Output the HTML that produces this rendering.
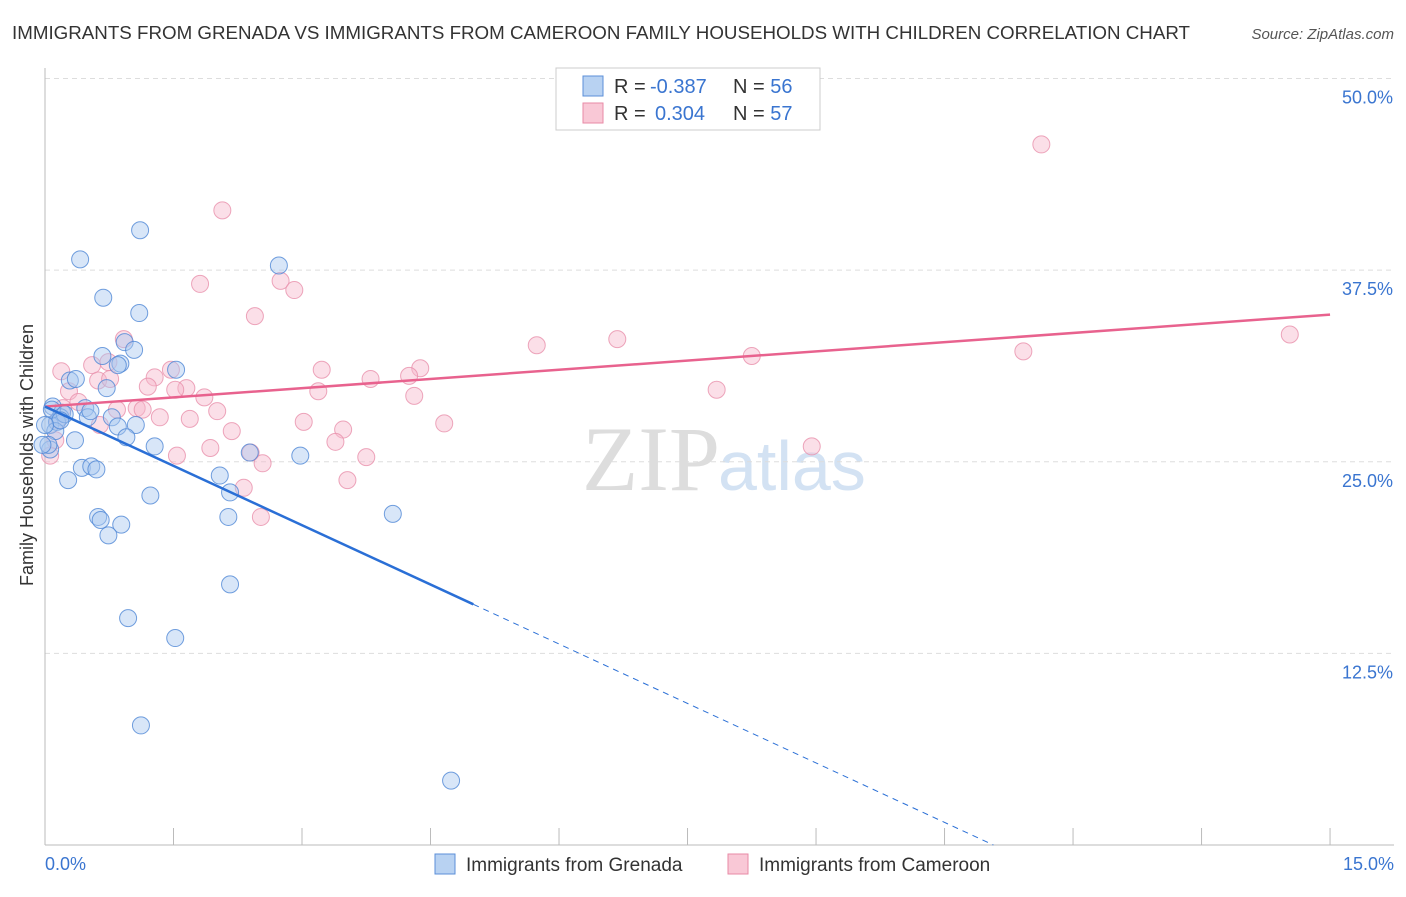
<!DOCTYPE html>
<html><head><meta charset="utf-8"><style>
body{margin:0;background:#fff;font-family:"Liberation Sans",sans-serif;}
</style></head><body>
<svg width="1406" height="892" xmlns="http://www.w3.org/2000/svg">
<text x="12" y="39" font-size="18" fill="#333" textLength="1178" lengthAdjust="spacingAndGlyphs">IMMIGRANTS FROM GRENADA VS IMMIGRANTS FROM CAMEROON FAMILY HOUSEHOLDS WITH CHILDREN CORRELATION CHART</text>
<text x="1394" y="39" font-size="15" fill="#555" font-style="italic" text-anchor="end">Source: ZipAtlas.com</text>
<text x="720" y="490" font-size="92" fill="#ddd" font-family="Liberation Serif" text-anchor="end">ZIP</text>
<text x="718" y="490" font-size="70" fill="#d3e2f3">atlas</text>
<g id="grid"></g>
<line x1="45" y1="68" x2="45" y2="845" stroke="#bbb"/>
<line x1="45" y1="845" x2="1394" y2="845" stroke="#bbb"/>
<g id="xt"></g>
<text x="33" y="455" font-size="18" fill="#333" transform="rotate(-90 33 455)" text-anchor="middle">Family Households with Children</text>
<text x="45" y="870" font-size="18" fill="#3a75d0">0.0%</text>
<text x="1394" y="870" font-size="18" fill="#3a75d0" text-anchor="end">15.0%</text>
<g id="pts"></g>
<g id="lines"></g>
<g>
<rect x="556" y="68" width="264" height="62" fill="#fff" stroke="#ccc"/>
<rect x="583" y="76" width="20" height="20" fill="#b8d2f2" stroke="#5b8fd8"/>
<rect x="583" y="103" width="20" height="20" fill="#f9c8d6" stroke="#e88aa6"/>
<text x="614" y="93" font-size="20" fill="#333">R = <tspan fill="#3a75d0" x="650">-0.387</tspan><tspan x="733">N = </tspan><tspan fill="#3a75d0">56</tspan></text>
<text x="614" y="120" font-size="20" fill="#333">R = <tspan fill="#3a75d0" x="655">0.304</tspan><tspan x="733">N = </tspan><tspan fill="#3a75d0">57</tspan></text>
</g>
<g>
<rect x="435" y="854" width="20" height="20" fill="#b8d2f2" stroke="#5b8fd8"/>
<text x="466" y="871" font-size="19" fill="#333">Immigrants from Grenada</text>
<rect x="728" y="854" width="20" height="20" fill="#f9c8d6" stroke="#e88aa6"/>
<text x="759" y="871" font-size="19" fill="#333">Immigrants from Cameroon</text>
</g>
</svg>
<script>
const yTicks=[12.5,25,37.5,50];
const yTickLabels=["12.5%","25.0%","37.5%","50.0%"];
const blueX=[1.11,0.41,2.73,0.68,1.10,0.93,1.04,0.67,0.88,1.53,0.85,0.29,0.36,0.72,0.09,0.20,0.47,0.18,0.50,0.78,0.06,0.14,0.85,1.06,0.35,0.95,1.28,0.06,0.43,0.54,0.60,0.27,2.04,2.39,2.98,1.23,2.16,0.62,0.65,0.89,0.74,2.14,4.06,2.16,0.97,1.52,1.12,4.74,0.08,0.12,0.23,0.04,0.53,0.18,-0.03,0.00];
const blueY=[40.1,38.2,37.8,35.7,34.7,32.8,32.3,31.9,31.4,31.0,31.3,30.3,30.4,29.8,28.6,28.2,28.5,27.9,27.9,27.9,27.4,27.6,27.3,27.4,26.4,26.6,26.0,25.8,24.6,24.7,24.5,23.8,24.1,25.6,25.4,22.8,23.0,21.4,21.2,20.9,20.2,21.4,21.6,17.0,14.8,13.5,7.8,4.2,28.4,27.0,28.1,26.1,28.3,27.7,26.1,27.4];
const pinkX=[11.63,2.07,1.81,2.75,2.91,2.45,0.92,5.74,6.68,8.25,11.42,14.53,0.55,0.74,0.19,3.23,4.38,4.25,3.80,1.47,1.28,1.65,1.20,0.62,0.28,1.86,3.19,4.31,7.84,1.52,1.07,1.14,2.01,0.84,1.34,1.69,3.02,4.66,2.18,3.48,3.39,1.93,2.40,3.75,1.54,2.54,3.53,2.32,2.52,8.95,0.12,0.06,0.15,0.64,0.21,0.39,0.76];
const pinkY=[45.7,41.4,36.6,36.8,36.2,34.5,33.0,32.6,33.0,31.9,32.2,33.3,31.3,31.5,30.9,31.0,31.1,30.6,30.4,31.0,30.5,29.8,29.9,30.3,29.6,29.2,29.6,29.3,29.7,29.7,28.5,28.4,28.3,28.4,27.9,27.8,27.6,27.5,27.0,27.1,26.3,25.9,25.6,25.3,25.4,24.9,23.8,23.3,21.4,26.0,26.4,25.4,27.7,27.4,28.5,28.9,30.4];
const blueLine=[[0,28.6],[5.0,15.7]];
const blueDash=[[5.0,15.7],[11.07,0]];
const pinkLine=[[0,28.6],[15,34.6]];
const X=v=>45+v*85.67, Y=v=>845-v*15.33;
const NS="http://www.w3.org/2000/svg";
const grid=document.getElementById('grid');
yTicks.forEach((t,i)=>{
  const l=document.createElementNS(NS,'line');
  l.setAttribute('x1',45);l.setAttribute('x2',1394);l.setAttribute('y1',Y(t));l.setAttribute('y2',Y(t));
  l.setAttribute('stroke','#ddd');l.setAttribute('stroke-dasharray','5,4');
  
  
  grid.appendChild(l);
  const tx=document.createElementNS(NS,'text');
  tx.setAttribute('x',1393);tx.setAttribute('y',Y(t)+25);tx.setAttribute('text-anchor','end');
  tx.setAttribute('font-size','18');tx.setAttribute('fill','#3a75d0');tx.textContent=yTickLabels[i];
  
  
  grid.appendChild(tx);
});
const xt=document.getElementById('xt');
for(let i=1;i<=10;i++){
  const l=document.createElementNS(NS,'line');
  const x=X(i*1.5);
  l.setAttribute('x1',x);l.setAttribute('x2',x);l.setAttribute('y1',828);l.setAttribute('y2',845);l.setAttribute('stroke','#bbb');
  
  
  xt.appendChild(l);
}
const pts=document.getElementById('pts');
function dot(x,y,fill,stroke,name){
  const c=document.createElementNS(NS,'circle');
  c.setAttribute('cx',X(x));c.setAttribute('cy',Y(y));c.setAttribute('r',8.5);
  c.setAttribute('fill',fill);c.setAttribute('fill-opacity','0.45');c.setAttribute('stroke',stroke);c.setAttribute('stroke-width','1');c.setAttribute('stroke-opacity','0.8');
  
  
  pts.appendChild(c);
}
pinkX.forEach((x,i)=>dot(x,pinkY[i],'#f7b8cb','#e890ab','point-cameroon'));
blueX.forEach((x,i)=>dot(x,blueY[i],'#a9c8ef','#4f87d6','point-grenada'));
const lines=document.getElementById('lines');
function ln(p,col,w,dash,name){
  const l=document.createElementNS(NS,'line');
  l.setAttribute('x1',X(p[0][0]));l.setAttribute('y1',Y(p[0][1]));l.setAttribute('x2',X(p[1][0]));l.setAttribute('y2',Y(p[1][1]));
  l.setAttribute('stroke',col);l.setAttribute('stroke-width',w);if(dash)l.setAttribute('stroke-dasharray',dash);
  
  
  lines.appendChild(l);
}
ln(pinkLine,'#e8628e',2.5,null,'trendline-cameroon');
ln(blueLine,'#2a6fd6',2.5,null,'trendline-grenada');
ln(blueDash,'#2a6fd6',1,'6,5','trendline-grenada-extension');
</script>
</body></html>
